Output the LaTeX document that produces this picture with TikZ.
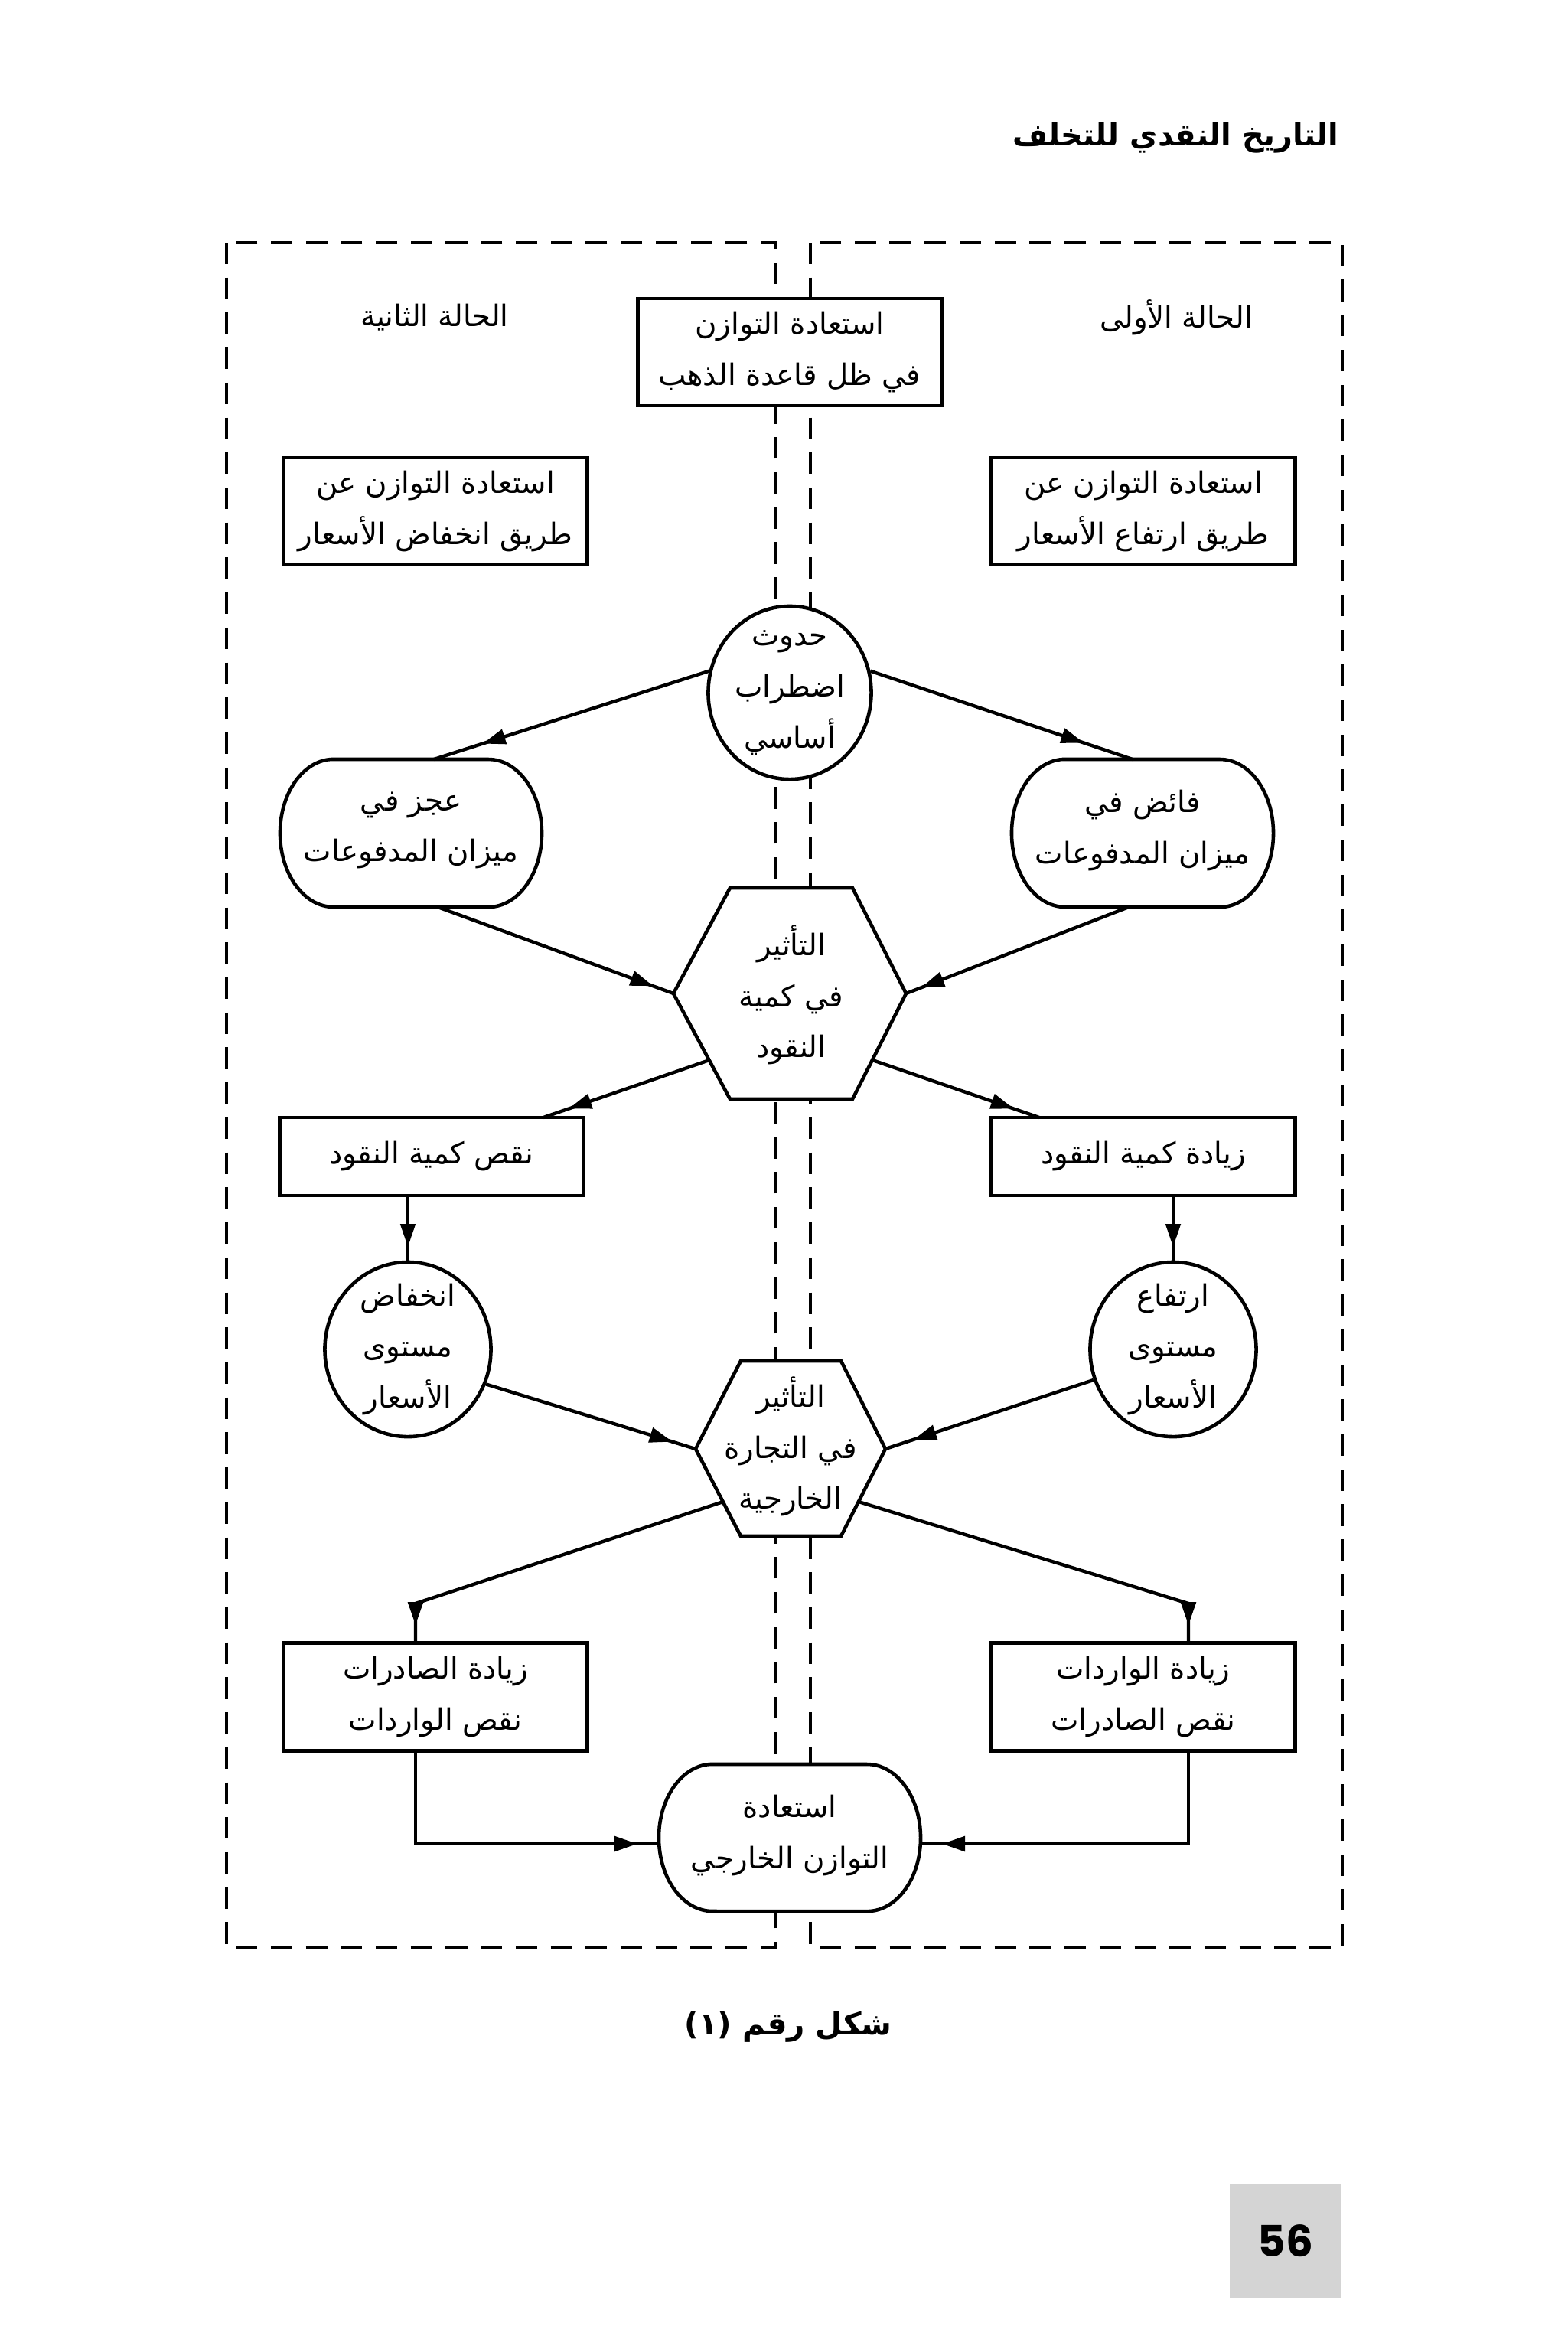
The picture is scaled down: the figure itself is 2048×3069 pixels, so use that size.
\documentclass[tikz,border=0pt]{standalone}
\usepackage{fontspec}
\usetikzlibrary{arrows.meta,shapes.geometric,decorations.markings,calc}
\TeXXeTstate=1
\newfontfamily\arfont[Script=Arabic]{DejaVu Sans}
\newfontfamily\numfont{Poppins}
\newcommand\rl[1]{\beginR #1\endR}
\definecolor{pagegray}{HTML}{D4D4D4}
\begin{document}
\begin{tikzpicture}[x=0.01cm,y=0.01cm,
  txt/.style={font=\arfont\fontsize{11}{19}\selectfont, align=center, inner sep=0pt},
  shapeline/.style={draw=black, line width=1.3pt, fill=white},
  boxnode/.style={txt, shapeline, rectangle, minimum width=3.97cm, minimum height=1.40cm},
  ell/.style={shapeline, ellipse, inner sep=0pt},
  frame/.style={draw=black, line width=1.4pt, dash pattern=on 8pt off 5pt},
  conn/.style={draw=black, line width=1.25pt},
  tipat/.style={postaction={decorate, decoration={markings, mark=at position #1 with {\arrow{Triangle[length=8.5pt,width=5.5pt]}}}}},
]
\useasboundingbox (0,0) rectangle (2048,-3069);
\fill[white] (0,0) rectangle (2048,-3069);

% frames
\draw[frame] (296,-317) rectangle (1014,-2545);
\draw[frame] (1059,-317) rectangle (1754,-2545);

% header
\node[anchor=east, font=\arfont\bfseries\fontsize{11.3}{16}\selectfont, inner sep=0pt] (title) at (1750,-180) {\rl{التاريخ النقدي للتخلف}};

% case labels
\node[txt] (case2) at (568,-415) {\rl{الحالة الثانية}};
\node[txt] (case1) at (1537,-415) {\rl{الحالة الأولى}};

% boxes row 1
\node[boxnode] (gold) at (1032,-460) {\rl{استعادة التوازن}\\\rl{في ظل قاعدة الذهب}};
\node[boxnode] (left1) at (569,-668) {\rl{استعادة التوازن عن}\\\rl{طريق انخفاض الأسعار}};
\node[boxnode] (right1) at (1494,-668) {\rl{استعادة التوازن عن}\\\rl{طريق ارتفاع الأسعار}};

% shock
\node[ell, minimum width=2.13cm, minimum height=2.26cm] (shock) at (1032,-905) {};
\node[txt] (shocktxt) at (shock) {\rl{حدوث}\\\rl{اضطراب}\\\rl{أساسي}};

% barrels
\draw[shapeline] (436,-992) -- (638,-992) arc[start angle=90,end angle=-90,x radius=0.70cm,y radius=0.965cm] -- (436,-1185) arc[start angle=270,end angle=90,x radius=0.70cm,y radius=0.965cm] -- cycle;
\node[txt] (deficit) at (537,-1085) {\rl{عجز في}\\\rl{ميزان المدفوعات}};
\draw[shapeline] (1392,-992) -- (1594,-992) arc[start angle=90,end angle=-90,x radius=0.70cm,y radius=0.965cm] -- (1392,-1185) arc[start angle=270,end angle=90,x radius=0.70cm,y radius=0.965cm] -- cycle;
\node[txt] (surplus) at (1493,-1085) {\rl{فائض في}\\\rl{ميزان المدفوعات}};
\coordinate (deficitN) at (567,-992);
\coordinate (deficitS) at (572,-1185);
\coordinate (surplusN) at (1480,-992);
\coordinate (surplusS) at (1475,-1185);

% hexagon A
\draw[shapeline] (954,-1160) -- (1114,-1160) -- (1184,-1298) -- (1114,-1436) -- (954,-1436) -- (880,-1298) -- cycle;
\coordinate (hexAW) at (880,-1298);
\coordinate (hexAE) at (1184,-1298);
\coordinate (hexASW) at (927,-1385);
\coordinate (hexASE) at (1140,-1385);
\node[txt] (hexA) at (1034,-1300) {\rl{التأثير}\\\rl{في كمية}\\\rl{النقود}};

% money boxes
\node[boxnode, minimum height=1.02cm] (less) at (564,-1511) {\rl{نقص كمية النقود}};
\node[boxnode, minimum height=1.02cm] (more) at (1494,-1511) {\rl{زيادة كمية النقود}};
\coordinate (lessN) at (710,-1460);
\coordinate (moreN) at (1358,-1460);

% price ellipses
\node[ell, minimum width=2.17cm, minimum height=2.28cm] (lowp) at (533,-1763) {};
\node[txt] (lowptxt) at (lowp) {\rl{انخفاض}\\\rl{مستوى}\\\rl{الأسعار}};
\node[ell, minimum width=2.17cm, minimum height=2.28cm] (highp) at (1533,-1763) {};
\node[txt] (highptxt) at (highp) {\rl{ارتفاع}\\\rl{مستوى}\\\rl{الأسعار}};

% hexagon B
\draw[shapeline] (968,-1778) -- (1099,-1778) -- (1157,-1893) -- (1099,-2007) -- (968,-2007) -- (909,-1893) -- cycle;
\coordinate (hexBW) at (909,-1893);
\coordinate (hexBE) at (1157,-1893);
\coordinate (hexBSW) at (945,-1962);
\coordinate (hexBSE) at (1122,-1962);
\node[txt] (hexB) at (1033,-1890) {\rl{التأثير}\\\rl{في التجارة}\\\rl{الخارجية}};

% trade boxes
\node[boxnode, minimum height=1.41cm] (expo) at (569,-2217) {\rl{زيادة الصادرات}\\\rl{نقص الواردات}};
\node[boxnode, minimum height=1.41cm] (impo) at (1494,-2217) {\rl{زيادة الواردات}\\\rl{نقص الصادرات}};

% bottom barrel
\draw[shapeline] (931,-2305) -- (1133,-2305) arc[start angle=90,end angle=-90,x radius=0.70cm,y radius=0.96cm] -- (931,-2497) arc[start angle=270,end angle=90,x radius=0.70cm,y radius=0.96cm] -- cycle;
\node[txt] (restore) at (1032,-2398) {\rl{استعادة}\\\rl{التوازن الخارجي}};
\coordinate (restoreW) at (861,-2409);
\coordinate (restoreE) at (1203,-2409);

\coordinate (lbend) at (543,-2095);
\coordinate (rbend) at (1553,-2095);

% connectors
\draw[conn, tipat=-19pt] (shock.165) -- (deficitN);
\draw[conn, tipat=-19pt] (shock.15) -- (surplusN);
\draw[conn, tipat=-8pt] (deficitS) -- (hexAW);
\draw[conn, tipat=-6pt] (surplusS) -- (hexAE);
\draw[conn, tipat=-10pt] (hexASW) -- (lessN);
\draw[conn, tipat=-10pt] (hexASE) -- (moreN);
\draw[conn, line width=1pt, tipat=-5pt] (lowp.north |- less.south) -- (lowp.north);
\draw[conn, line width=1pt, tipat=-5pt] (highp.north |- more.south) -- (highp.north);
\draw[conn, tipat=-9pt] (lowp.336) -- (hexBW);
\draw[conn, tipat=-11pt] (highp.201) -- (hexBE);
\draw[conn, tipat=-6pt] (hexBSW) -- (lbend) -- (lbend |- expo.north);
\draw[conn, tipat=-6pt] (hexBSE) -- (rbend) -- (rbend |- impo.north);
\draw[conn, tipat=-8pt] (lbend |- expo.south) |- (restoreW);
\draw[conn, tipat=-8pt] (rbend |- impo.south) |- (restoreE);

% caption
\node[font=\arfont\bfseries\fontsize{11.5}{16}\selectfont, inner sep=0pt] (caption) at (1030,-2648) {(١) \rl{شكل رقم}};

% page number
\node[fill=pagegray, minimum width=1.45cm, minimum height=1.47cm, inner sep=0pt, font=\numfont\bfseries\fontsize{16}{16}\selectfont] (page) at (1680,-2928) {56};
\end{tikzpicture}
\end{document}
